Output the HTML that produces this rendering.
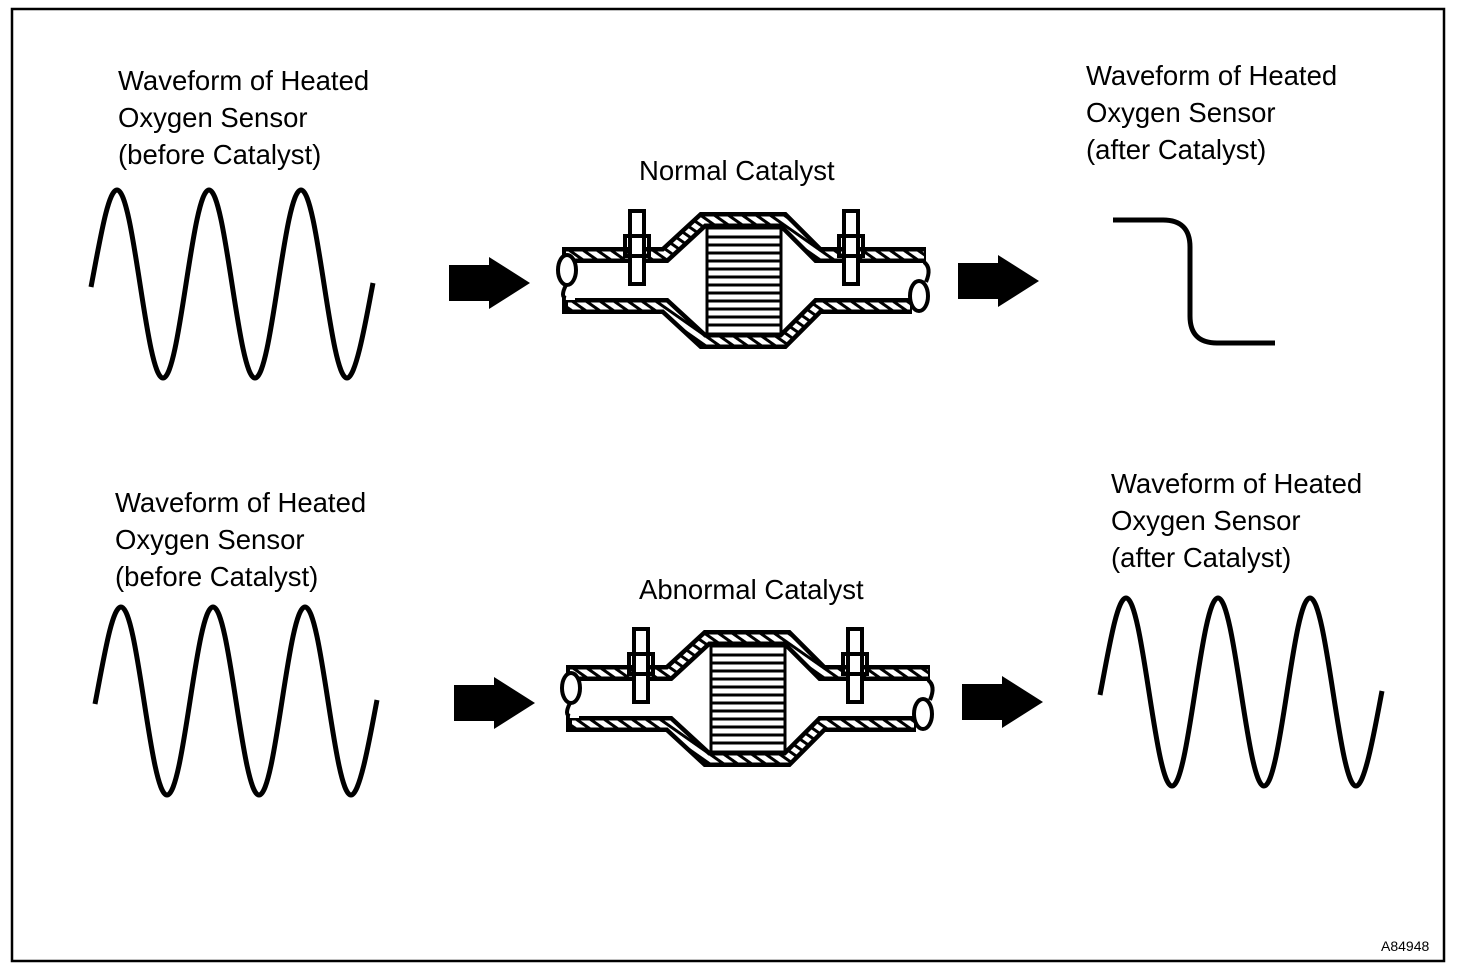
<!DOCTYPE html>
<html><head><meta charset="utf-8"><style>
html,body{margin:0;padding:0;background:#fff;}
svg{display:block;}
text{font-family:"Liberation Sans",Arial,sans-serif;fill:#000;}
</style></head><body>
<svg width="1472" height="972" viewBox="0 0 1472 972" xmlns="http://www.w3.org/2000/svg">
<defs>
<pattern id="hatch" width="8" height="8" patternUnits="userSpaceOnUse" patternTransform="rotate(-55)">
<rect width="8" height="8" fill="#fff"/><rect width="3" height="8" fill="#000"/>
</pattern>
<g id="cat">
  <path d="M562,255 L665,255 L703,220 L783,220 L818,255 L926,255" fill="none" stroke="#000" stroke-width="16" stroke-linejoin="miter"/>
  <path d="M562,306 L665,306 L703,341 L783,341 L818,306 L912,306" fill="none" stroke="#000" stroke-width="16" stroke-linejoin="miter"/>
  <path d="M566,255 L665,255 L703,220 L783,220 L818,255 L924,255" fill="none" stroke="url(#hatch)" stroke-width="7"/>
  <path d="M568,306 L665,306 L703,341 L783,341 L818,306 L910,306" fill="none" stroke="url(#hatch)" stroke-width="7"/>
  <path d="M566,262 Q556,280 566,300 L575,300 L575,262 Z" fill="#fff"/>
  <path d="M566,285 Q560,297 566,298" fill="none" stroke="#000" stroke-width="4"/>
  <ellipse cx="567" cy="270" rx="9" ry="15" fill="#fff" stroke="#000" stroke-width="4"/>
  <path d="M924,262 Q932,268 926,282" fill="none" stroke="#000" stroke-width="4"/>
  <ellipse cx="919" cy="296" rx="9" ry="15" fill="#fff" stroke="#000" stroke-width="4"/>
  <rect x="707" y="228" width="74" height="106" fill="#fff" stroke="#000" stroke-width="3"/>
  <g stroke="#000" stroke-width="3">
    <line x1="707" y1="237" x2="781" y2="237"/><line x1="707" y1="245" x2="781" y2="245"/>
    <line x1="707" y1="253" x2="781" y2="253"/><line x1="707" y1="261" x2="781" y2="261"/>
    <line x1="707" y1="269" x2="781" y2="269"/><line x1="707" y1="277" x2="781" y2="277"/>
    <line x1="707" y1="285" x2="781" y2="285"/><line x1="707" y1="293" x2="781" y2="293"/>
    <line x1="707" y1="301" x2="781" y2="301"/><line x1="707" y1="309" x2="781" y2="309"/>
    <line x1="707" y1="317" x2="781" y2="317"/><line x1="707" y1="325" x2="781" y2="325"/>
  </g>
  <rect x="630" y="211" width="14" height="73" fill="#fff" stroke="#000" stroke-width="4"/>
  <rect x="625" y="236" width="24" height="20" fill="none" stroke="#000" stroke-width="4"/>
  <rect x="844" y="211" width="14" height="73" fill="#fff" stroke="#000" stroke-width="4"/>
  <rect x="839" y="236" width="24" height="20" fill="none" stroke="#000" stroke-width="4"/>
</g>
<path id="wave" d="M91,287 C100,240 108,190 117,190 C134,190 146,378 163,378 C180,378 192,190 209,190 C226,190 238,378 255,378 C272,378 284,190 301,190 C318,190 330,378 347,378 C356,378 366,320 373,283" fill="none" stroke="#000" stroke-width="5"/>
<path id="arrow" d="M0,-18 L40,-18 L40,-26 L81,0 L40,26 L40,18 L0,18 Z" fill="#000"/>
</defs>

<rect x="12" y="9" width="1432" height="952" fill="none" stroke="#000" stroke-width="2.5"/>

<g font-size="27.5">
<text x="118" y="90">Waveform of Heated</text>
<text x="118" y="127">Oxygen Sensor</text>
<text x="118" y="164">(before Catalyst)</text>
<text x="1086" y="85">Waveform of Heated</text>
<text x="1086" y="122">Oxygen Sensor</text>
<text x="1086" y="159">(after Catalyst)</text>
<text x="639" y="180">Normal Catalyst</text>
<text x="115" y="512">Waveform of Heated</text>
<text x="115" y="549">Oxygen Sensor</text>
<text x="115" y="586">(before Catalyst)</text>
<text x="1111" y="493">Waveform of Heated</text>
<text x="1111" y="530">Oxygen Sensor</text>
<text x="1111" y="567">(after Catalyst)</text>
<text x="639" y="599">Abnormal Catalyst</text>
</g>
<text x="1381" y="951" font-size="14">A84948</text>

<use href="#wave"/>
<use href="#wave" transform="translate(4,417)"/>
<use href="#wave" transform="translate(1009,408)"/>

<path d="M1113,220 L1163,220 Q1190,220 1190,247 L1190,316 Q1190,343 1217,343 L1275,343" fill="none" stroke="#000" stroke-width="5"/>

<use href="#cat"/>
<use href="#cat" transform="translate(4,418)"/>

<use href="#arrow" transform="translate(449,283)"/>
<use href="#arrow" transform="translate(958,281)"/>
<use href="#arrow" transform="translate(454,703)"/>
<use href="#arrow" transform="translate(962,702)"/>
</svg>
</body></html>
